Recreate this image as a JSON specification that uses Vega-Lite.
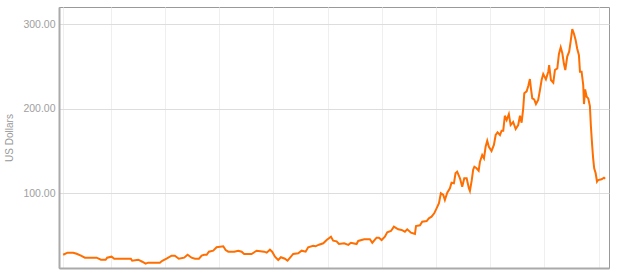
{
  "$schema": "https://vega.github.io/schema/vega-lite/v6.json",
  "width": 550,
  "height": 261,
  "autosize": {"type": "none"},
  "padding": {"left": 59, "top": 7, "right": 12, "bottom": 8},
  "background": "white",
  "config": {
    "view": {"stroke": "#999999", "strokeWidth": 1},
    "axis": {"domainColor": "#aaaaaa", "domainWidth": 2, "ticks": false}
  },
  "data": {
    "values": [
      {"date": "1999-02-11", "price": 27.3},
      {"date": "1999-03-13", "price": 29.7},
      {"date": "1999-04-20", "price": 29.7},
      {"date": "1999-05-13", "price": 28.5},
      {"date": "1999-06-11", "price": 26.2},
      {"date": "1999-07-08", "price": 23.8},
      {"date": "1999-09-25", "price": 23.8},
      {"date": "1999-10-24", "price": 21.4},
      {"date": "1999-11-25", "price": 21.4},
      {"date": "1999-12-05", "price": 23.8},
      {"date": "2000-01-04", "price": 25.0},
      {"date": "2000-01-22", "price": 22.6},
      {"date": "2000-05-13", "price": 22.6},
      {"date": "2000-05-22", "price": 20.2},
      {"date": "2000-07-02", "price": 21.4},
      {"date": "2000-07-29", "price": 19.0},
      {"date": "2000-08-21", "price": 16.7},
      {"date": "2000-09-07", "price": 17.9},
      {"date": "2000-11-25", "price": 17.9},
      {"date": "2000-12-11", "price": 20.2},
      {"date": "2001-01-09", "price": 22.6},
      {"date": "2001-02-12", "price": 26.2},
      {"date": "2001-03-06", "price": 26.2},
      {"date": "2001-04-02", "price": 22.6},
      {"date": "2001-05-08", "price": 23.8},
      {"date": "2001-05-31", "price": 27.3},
      {"date": "2001-06-27", "price": 23.8},
      {"date": "2001-07-20", "price": 22.6},
      {"date": "2001-08-16", "price": 22.6},
      {"date": "2001-09-03", "price": 26.2},
      {"date": "2001-09-20", "price": 27.3},
      {"date": "2001-10-07", "price": 27.3},
      {"date": "2001-10-22", "price": 30.9},
      {"date": "2001-11-20", "price": 32.1},
      {"date": "2001-12-13", "price": 36.1},
      {"date": "2002-01-27", "price": 37.3},
      {"date": "2002-02-12", "price": 32.9},
      {"date": "2002-03-02", "price": 30.9},
      {"date": "2002-04-11", "price": 30.9},
      {"date": "2002-05-08", "price": 32.1},
      {"date": "2002-05-31", "price": 30.9},
      {"date": "2002-06-17", "price": 28.2},
      {"date": "2002-08-06", "price": 28.2},
      {"date": "2002-09-09", "price": 32.1},
      {"date": "2002-10-30", "price": 30.9},
      {"date": "2002-11-16", "price": 29.7},
      {"date": "2002-12-08", "price": 33.3},
      {"date": "2002-12-23", "price": 30.9},
      {"date": "2003-01-11", "price": 25.0},
      {"date": "2003-02-02", "price": 21.1},
      {"date": "2003-02-20", "price": 24.3},
      {"date": "2003-03-19", "price": 22.6},
      {"date": "2003-04-06", "price": 20.2},
      {"date": "2003-05-14", "price": 28.2},
      {"date": "2003-06-17", "price": 29.0},
      {"date": "2003-07-10", "price": 32.1},
      {"date": "2003-08-06", "price": 30.9},
      {"date": "2003-08-23", "price": 36.1},
      {"date": "2003-09-26", "price": 38.0},
      {"date": "2003-10-12", "price": 37.3},
      {"date": "2003-11-04", "price": 39.2},
      {"date": "2003-12-03", "price": 40.8},
      {"date": "2003-12-26", "price": 44.7},
      {"date": "2004-01-24", "price": 48.6},
      {"date": "2004-02-08", "price": 43.9},
      {"date": "2004-03-02", "price": 43.2},
      {"date": "2004-03-18", "price": 40.0},
      {"date": "2004-04-22", "price": 40.8},
      {"date": "2004-05-20", "price": 39.0},
      {"date": "2004-06-07", "price": 41.5},
      {"date": "2004-07-15", "price": 40.0},
      {"date": "2004-07-26", "price": 43.6},
      {"date": "2004-09-04", "price": 45.6},
      {"date": "2004-10-13", "price": 45.6},
      {"date": "2004-10-29", "price": 41.5},
      {"date": "2004-11-27", "price": 47.5},
      {"date": "2004-12-13", "price": 47.5},
      {"date": "2004-12-31", "price": 44.7},
      {"date": "2005-01-22", "price": 48.6},
      {"date": "2005-02-07", "price": 53.9},
      {"date": "2005-03-04", "price": 55.4},
      {"date": "2005-03-24", "price": 60.5},
      {"date": "2005-04-22", "price": 57.4},
      {"date": "2005-05-15", "price": 56.6},
      {"date": "2005-06-06", "price": 54.6},
      {"date": "2005-06-22", "price": 57.4},
      {"date": "2005-07-17", "price": 53.4},
      {"date": "2005-08-13", "price": 51.8},
      {"date": "2005-08-20", "price": 61.3},
      {"date": "2005-09-16", "price": 62.1},
      {"date": "2005-10-01", "price": 66.4},
      {"date": "2005-10-31", "price": 67.2},
      {"date": "2005-11-15", "price": 70.4},
      {"date": "2005-12-03", "price": 72.3},
      {"date": "2005-12-21", "price": 76.3},
      {"date": "2006-01-06", "price": 82.2},
      {"date": "2006-01-22", "price": 88.2},
      {"date": "2006-02-04", "price": 100.0},
      {"date": "2006-02-20", "price": 98.0},
      {"date": "2006-03-03", "price": 92.1},
      {"date": "2006-03-19", "price": 100.7},
      {"date": "2006-04-06", "price": 105.9},
      {"date": "2006-04-17", "price": 112.5},
      {"date": "2006-05-03", "price": 111.8},
      {"date": "2006-05-14", "price": 123.7},
      {"date": "2006-05-25", "price": 125.6},
      {"date": "2006-06-13", "price": 117.8},
      {"date": "2006-06-28", "price": 107.8},
      {"date": "2006-07-12", "price": 117.8},
      {"date": "2006-07-28", "price": 117.8},
      {"date": "2006-08-12", "price": 105.9},
      {"date": "2006-08-19", "price": 102.7},
      {"date": "2006-08-31", "price": 115.0},
      {"date": "2006-09-10", "price": 128.0},
      {"date": "2006-09-18", "price": 131.5},
      {"date": "2006-10-03", "price": 129.6},
      {"date": "2006-10-17", "price": 126.7},
      {"date": "2006-10-26", "price": 137.4},
      {"date": "2006-11-10", "price": 145.3},
      {"date": "2006-11-22", "price": 141.4},
      {"date": "2006-12-03", "price": 155.1},
      {"date": "2006-12-14", "price": 162.2},
      {"date": "2006-12-25", "price": 155.1},
      {"date": "2007-01-12", "price": 150.1},
      {"date": "2007-01-28", "price": 157.2},
      {"date": "2007-02-09", "price": 169.0},
      {"date": "2007-02-22", "price": 172.2},
      {"date": "2007-03-10", "price": 169.0},
      {"date": "2007-03-21", "price": 174.1},
      {"date": "2007-04-01", "price": 174.1},
      {"date": "2007-04-12", "price": 191.8},
      {"date": "2007-04-24", "price": 186.7},
      {"date": "2007-05-09", "price": 193.8},
      {"date": "2007-05-21", "price": 180.8},
      {"date": "2007-06-07", "price": 184.4},
      {"date": "2007-06-24", "price": 176.1},
      {"date": "2007-07-11", "price": 180.8},
      {"date": "2007-07-23", "price": 191.8},
      {"date": "2007-08-03", "price": 183.6},
      {"date": "2007-08-14", "price": 200.6},
      {"date": "2007-08-21", "price": 218.3},
      {"date": "2007-09-06", "price": 220.7},
      {"date": "2007-09-17", "price": 227.0},
      {"date": "2007-09-28", "price": 235.3},
      {"date": "2007-10-05", "price": 224.3},
      {"date": "2007-10-14", "price": 212.5},
      {"date": "2007-10-27", "price": 211.2},
      {"date": "2007-11-08", "price": 205.6},
      {"date": "2007-11-23", "price": 210.4},
      {"date": "2007-12-05", "price": 222.3},
      {"date": "2007-12-16", "price": 234.1},
      {"date": "2007-12-27", "price": 241.2},
      {"date": "2008-01-14", "price": 234.9},
      {"date": "2008-01-30", "price": 243.9},
      {"date": "2008-02-05", "price": 251.8},
      {"date": "2008-02-17", "price": 234.1},
      {"date": "2008-03-04", "price": 230.9},
      {"date": "2008-03-15", "price": 245.9},
      {"date": "2008-03-31", "price": 247.9},
      {"date": "2008-04-11", "price": 264.9},
      {"date": "2008-04-23", "price": 272.8},
      {"date": "2008-05-04", "price": 265.7},
      {"date": "2008-05-15", "price": 253.0},
      {"date": "2008-05-24", "price": 245.9},
      {"date": "2008-06-06", "price": 261.8},
      {"date": "2008-06-19", "price": 267.6},
      {"date": "2008-06-29", "price": 279.4},
      {"date": "2008-07-10", "price": 294.3},
      {"date": "2008-07-21", "price": 289.2},
      {"date": "2008-08-02", "price": 281.3},
      {"date": "2008-08-12", "price": 271.4},
      {"date": "2008-08-24", "price": 263.5},
      {"date": "2008-08-31", "price": 243.9},
      {"date": "2008-09-11", "price": 243.9},
      {"date": "2008-09-22", "price": 228.2},
      {"date": "2008-09-27", "price": 205.6},
      {"date": "2008-10-05", "price": 223.0},
      {"date": "2008-10-15", "price": 214.3},
      {"date": "2008-10-26", "price": 212.3},
      {"date": "2008-11-06", "price": 203.3},
      {"date": "2008-11-13", "price": 178.8},
      {"date": "2008-11-22", "price": 155.1},
      {"date": "2008-11-28", "price": 141.4},
      {"date": "2008-12-05", "price": 129.6},
      {"date": "2008-12-15", "price": 123.7},
      {"date": "2008-12-24", "price": 113.7},
      {"date": "2009-01-01", "price": 115.7},
      {"date": "2009-01-24", "price": 116.6},
      {"date": "2009-02-09", "price": 118.5},
      {"date": "2009-02-17", "price": 117.3}
    ]
  },
  "mark": {"type": "line", "color": "#ff6e00", "strokeWidth": 2, "clip": true},
  "encoding": {
    "x": {
      "field": "date",
      "type": "temporal",
      "scale": {
        "type": "utc",
        "domain": [
          {"year": 1999, "month": 1, "date": 14, "utc": true},
          {"year": 2009, "month": 3, "date": 15, "utc": true}
        ]
      },
      "axis": {
        "title": null,
        "labels": false,
        "ticks": false,
        "grid": true,
        "gridColor": "#efefef",
        "gridWidth": 1,
        "values": [
          {"year": 1999, "month": 2, "date": 12, "utc": true},
          {"year": 2000, "month": 1, "date": 1, "utc": true},
          {"year": 2001, "month": 1, "date": 1, "utc": true},
          {"year": 2002, "month": 1, "date": 1, "utc": true},
          {"year": 2003, "month": 1, "date": 1, "utc": true},
          {"year": 2004, "month": 1, "date": 1, "utc": true},
          {"year": 2005, "month": 1, "date": 1, "utc": true},
          {"year": 2006, "month": 1, "date": 1, "utc": true},
          {"year": 2007, "month": 1, "date": 1, "utc": true},
          {"year": 2008, "month": 1, "date": 1, "utc": true},
          {"year": 2009, "month": 1, "date": 9, "utc": true}
        ]
      }
    },
    "y": {
      "field": "price",
      "type": "quantitative",
      "scale": {"domain": [11.6, 320.5], "nice": false, "zero": false},
      "axis": {
        "title": "US Dollars",
        "titleFont": "Liberation Sans",
        "titleFontSize": 10,
        "titleFontWeight": "normal",
        "titleColor": "#999999",
        "titlePadding": 8,
        "values": [100, 200, 300],
        "format": ".2f",
        "labelFont": "Liberation Sans",
        "labelFontSize": 10.5,
        "labelColor": "#a0a0a0",
        "labelPadding": 4,
        "ticks": false,
        "grid": true,
        "gridColor": "#dddddd",
        "gridWidth": 1
      }
    }
  }
}
